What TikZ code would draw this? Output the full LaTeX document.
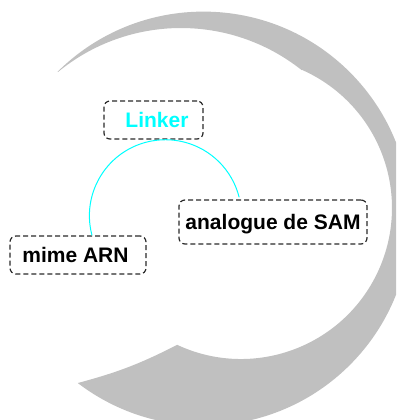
\documentclass[tikz,border=0pt]{standalone}
\usepackage{fontspec}
\setmainfont{Liberation Sans}
\usetikzlibrary{calc}
\definecolor{crescent}{HTML}{C0C0C0}
\definecolor{linkcyan}{HTML}{00FFFF}
\definecolor{boxline}{HTML}{2A2A2A}
\tikzset{
  labelbox/.style={draw=boxline, line width=1.2pt, dash pattern=on 5pt off 3pt,
    rounded corners=6pt, inner sep=0pt, text height=15pt, text depth=0pt,
    font=\fontsize{21}{24}\selectfont\bfseries},
  linkline/.style={draw=linkcyan, line width=1pt},
}
\begin{document}
\begin{tikzpicture}[x=1pt,y=1pt]
\fill[white] (0,0) rectangle (396,420);
\useasboundingbox (0,0) rectangle (396,420);
\begin{scope}
\clip (0,0) rectangle (396,420);
\coordinate (O) at (203.5,201.4);
\coordinate (C1) at (181,198);
\coordinate (C2) at (241,212);
\fill[crescent] ($(O)+(134.8:207)$)
  arc[start angle=134.8, end angle=-127.4, radius=207]
  to[bend right=6] ($(C2)+(245:151)$)
  arc[start angle=245, end angle=426.2, radius=151]
  -- ($(C1)+(51.5:194)$)
  arc[start angle=51.5, end angle=129.4, radius=194]
  -- cycle;
\end{scope}
\node[labelbox, minimum width=99pt, minimum height=38pt, text=linkcyan] (link) at (153.5,300) {\hspace*{7pt}Linker};
\node[labelbox, minimum width=188pt, minimum height=44pt] (sam) at (273,198) {analogue de SAM};
\node[labelbox, minimum width=136pt, minimum height=38pt] (mime) at (78,165) {mime ARN\hspace*{5pt}};
\draw[linkline] ([xshift=14pt]mime.north) arc[start angle=195, end angle=14, radius=76];
\end{tikzpicture}
\end{document}
